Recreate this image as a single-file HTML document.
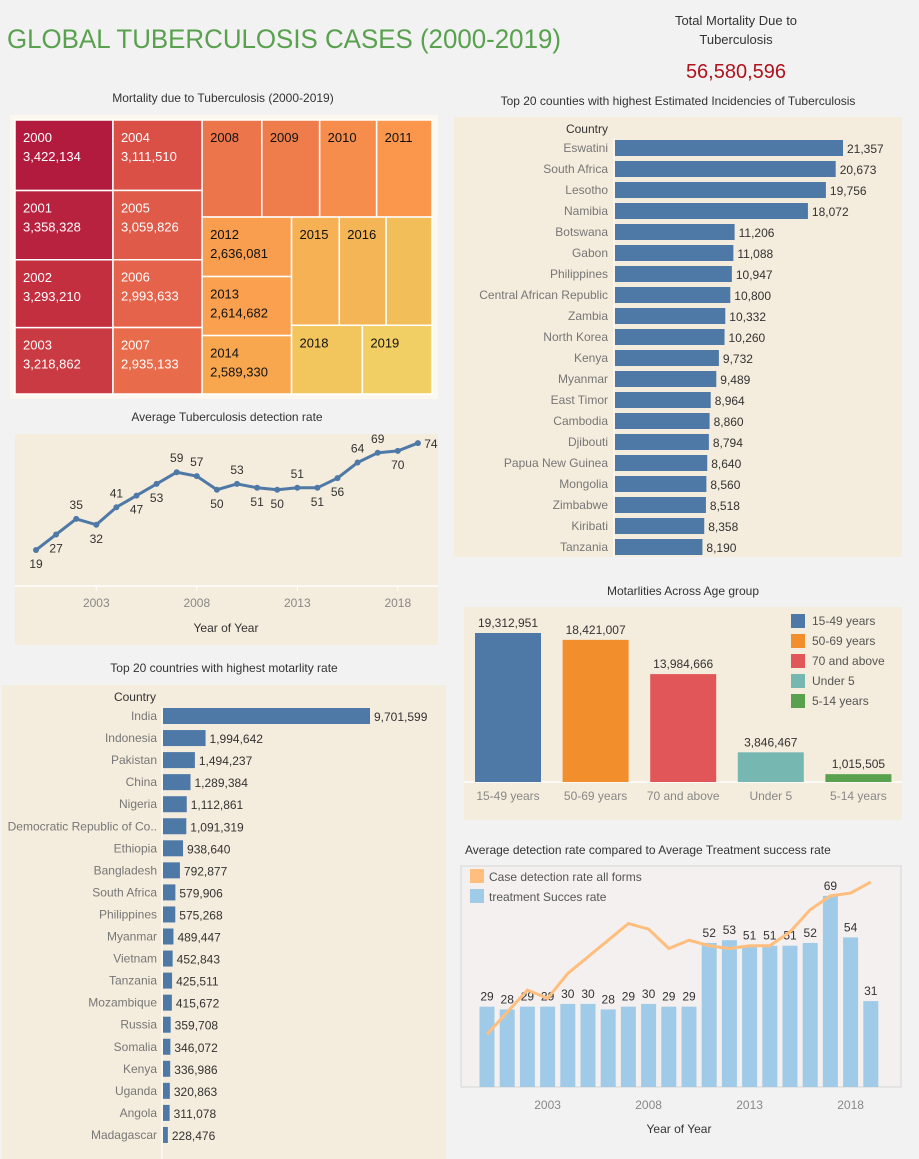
<!DOCTYPE html>
<html><head><meta charset="utf-8">
<style>
body{margin:0;background:#f2f2f2;}
svg{display:block;font-family:"Liberation Sans",sans-serif;}
</style></head>
<body>
<svg id="s" width="919" height="1159" viewBox="0 0 919 1159" xmlns="http://www.w3.org/2000/svg">
<rect width="919" height="1159" fill="#f2f2f2"/>
<text x="7" y="48" font-size="27" fill="#59a14f" textLength="554" lengthAdjust="spacingAndGlyphs">GLOBAL TUBERCULOSIS CASES (2000-2019)</text>
<text x="736" y="25" font-size="13" fill="#333" text-anchor="middle">Total Mortality Due to</text>
<text x="736" y="44" font-size="13" fill="#333" text-anchor="middle">Tuberculosis</text>
<text x="736" y="78" font-size="20" fill="#b0121e" text-anchor="middle">56,580,596</text>

<text x="223" y="102" font-size="12" fill="#333" text-anchor="middle">Mortality due to Tuberculosis (2000-2019)</text>
<rect x="10" y="115" width="428" height="284" fill="#fcf8ef"/>
<g id="tm"></g>

<text x="227" y="421" font-size="12" fill="#333" text-anchor="middle">Average Tuberculosis detection rate</text>
<rect x="15" y="434" width="423" height="211" fill="#f4ecdc"/>
<line x1="15" y1="586" x2="438" y2="586" stroke="#fff" stroke-width="1.5"/>
<g id="lc"></g>
<text x="226" y="632" font-size="12" fill="#333" text-anchor="middle">Year of Year</text>

<text x="678" y="105" font-size="12" fill="#333" text-anchor="middle">Top 20 counties with highest Estimated Incidencies of Tuberculosis</text>
<rect x="454" y="117" width="448" height="440" fill="#f4ecdc"/>
<text x="608" y="133" font-size="12" fill="#333" text-anchor="end">Country</text>
<g id="inc"></g>

<text x="224" y="672" font-size="12" fill="#333" text-anchor="middle">Top 20 countries with highest motarlity rate</text>
<rect x="2" y="685" width="444" height="474" fill="#f4ecdc"/>
<text x="156" y="701" font-size="12" fill="#333" text-anchor="end">Country</text>
<g id="mc"></g>

<text x="683" y="595" font-size="12" fill="#333" text-anchor="middle">Motarlities Across Age group</text>
<rect x="464" y="607" width="438" height="213" fill="#f4ecdc"/>
<line x1="464" y1="782" x2="902" y2="782" stroke="#fff" stroke-width="1.5"/>
<g id="ag"></g>

<text x="465" y="854" font-size="12" fill="#333">Average detection rate compared to Average Treatment success rate</text>
<rect x="461" y="866" width="440" height="221" fill="#f3f0ef" stroke="#d6d6d6"/>
<g id="cb"></g>
<text x="679" y="1133" font-size="12" fill="#333" text-anchor="middle">Year of Year</text>
</svg>
<script>
const NS="http://www.w3.org/2000/svg";
function mk(p,t,a){const e=document.createElementNS(NS,t);for(const k in a)e.setAttribute(k,a[k]);p.appendChild(e);return e;}
function fmt(v){return Math.round(v).toLocaleString('en-US');}

// ---------- Treemap ----------
const tmYears=[2000,2001,2002,2003,2004,2005,2006,2007,2008,2009,2010,2011,2012,2013,2014,2015,2016,2017,2018,2019];
const tmValues=[3422134,3358328,3293210,3218862,3111510,3059826,2993633,2935133,2870000,2780000,2740000,2660000,2636081,2614682,2589330,2560000,2510000,2460000,2410000,2370000];
const tmColors=["#b31b3e","#b9223f","#c42f40","#c93a42","#da5046","#df5a48","#e5634a","#e86c4b","#ed754b","#ef7d4c","#f78d4c","#fa974d","#f99d4e","#faa04f","#f8a74f","#f5b154","#f4b556","#f2be59","#f2c65d","#f2cf64"];
const tmLabelVal=[1,1,1,1,1,1,1,1,0,0,0,0,1,1,1,0,0,0,0,0];
const tmShowYear=[1,1,1,1,1,1,1,1,1,1,1,1,1,1,1,1,1,0,1,1];
(function(){
  const g=document.getElementById('tm');
  const sum=a=>a.reduce((s,i)=>s+tmValues[i],0);
  function slice(idx,x,y,w,h,horiz){let t=sum(idx),o=0;return idx.map(i=>{const f=tmValues[i]/t;const r=horiz?[x+o*w,y,f*w,h]:[x,y+o*h,w,f*h];o+=f;return [i,r];});}
  const X=15,Y=120,W=417,H=274;
  const A=[0,1,2,3],B=[4,5,6,7],C=[8,9,10,11,12,13,14,15,16,17,18,19];
  const tot=sum(A)+sum(B)+sum(C);
  const wA=W*sum(A)/tot,wB=W*sum(B)/tot,wC=W-wA-wB;
  let cells=[];
  cells=cells.concat(slice(A,X,Y,wA,H,false),slice(B,X+wA,Y,wB,H,false));
  const cx=X+wA+wB, top=[8,9,10,11], bot=[12,13,14,15,16,17,18,19];
  const hT=H*sum(top)/sum(C);
  cells=cells.concat(slice(top,cx,Y,wC,hT,true));
  const by=Y+hT,bh=H-hT,E=[12,13,14],D=[15,16,17,18,19];
  const wE=wC*sum(E)/sum(bot);
  cells=cells.concat(slice(E,cx,by,wE,bh,false));
  const D1=[15,16,17],D2=[18,19],hD1=bh*sum(D1)/sum(D);
  cells=cells.concat(slice(D1,cx+wE,by,wC-wE,hD1,true),slice(D2,cx+wE,by+hD1,wC-wE,bh-hD1,true));
  cells.forEach(([i,r])=>{
    const c=mk(g,'rect',{x:r[0],y:r[1],width:r[2],height:r[3],fill:tmColors[i],stroke:'#fff','stroke-width':1.5});
    
    
    const dark=i<8;
    if(tmShowYear[i]){const t=mk(g,'text',{x:r[0]+8,y:r[1]+22,'font-size':13,fill:dark?'#fff':'#111'});t.textContent=tmYears[i];
      }
    if(tmLabelVal[i]){const t=mk(g,'text',{x:r[0]+8,y:r[1]+41,'font-size':13,fill:dark?'#fff':'#111'});t.textContent=fmt(tmValues[i]);
      }
  });
})();

// ---------- Line chart ----------
const lcYears=[2000,2001,2002,2003,2004,2005,2006,2007,2008,2009,2010,2011,2012,2013,2014,2015,2016,2017,2018,2019];
const lcValues=[19,27,35,32,41,47,53,59,57,50,53,51,50,51,51,56,64,69,70,74];
const lcLabelAbove=[0,0,1,0,1,0,0,1,1,0,1,0,0,1,0,0,1,1,0,2];
const lcTicks=[2003,2008,2013,2018];
(function(){
  const g=document.getElementById('lc');
  const xs=y=>36+(y-2000)*20.1, ys=v=>587-v*1.945;
  lcTicks.forEach(t=>{const e=mk(g,'text',{x:xs(t),y:607,'font-size':12,fill:'#888','text-anchor':'middle'});e.textContent=t;
    
    const l=mk(g,'line',{x1:xs(t),y1:586,x2:xs(t),y2:591,stroke:'#fff'});});
  const pl=mk(g,'polyline',{points:lcYears.map((y,i)=>xs(y)+','+ys(lcValues[i])).join(' '),fill:'none',stroke:'#4e79a7','stroke-width':3});
  
  lcYears.forEach((y,i)=>{
    const c=mk(g,'circle',{cx:xs(y),cy:ys(lcValues[i]),r:3,fill:'#4e79a7'});
    
    const a=lcLabelAbove[i];
    const t=mk(g,'text',{x:a==2?xs(y)+13:xs(y),y:a==2?ys(lcValues[i])+5:(a?ys(lcValues[i])-10:ys(lcValues[i])+18),'font-size':12,fill:'#333','text-anchor':'middle'});
    t.textContent=lcValues[i];
  });
})();

// ---------- Incidence bars ----------
const incCountries=["Eswatini","South Africa","Lesotho","Namibia","Botswana","Gabon","Philippines","Central African Republic","Zambia","North Korea","Kenya","Myanmar","East Timor","Cambodia","Djibouti","Papua New Guinea","Mongolia","Zimbabwe","Kiribati","Tanzania"];
const incValues=[21357,20673,19756,18072,11206,11088,10947,10800,10332,10260,9732,9489,8964,8860,8794,8640,8560,8518,8358,8190];
(function(){
  const g=document.getElementById('inc');
  mk(g,'line',{x1:614,y1:138,x2:614,y2:557,stroke:'#fff'});
  const xs=v=>v*228/21357;
  incCountries.forEach((c,i)=>{
    const y=148+i*21;
    const t=mk(g,'text',{x:608,y:y+4,'font-size':12,fill:'#777','text-anchor':'end'});t.textContent=c;
    
    const b=mk(g,'rect',{x:615,y:y-8,width:xs(incValues[i]),height:16,fill:'#4e79a7'});
    
    const v=mk(g,'text',{x:615+xs(incValues[i])+4,y:y+5,'font-size':12,fill:'#333'});v.textContent=fmt(incValues[i]);
    
  });
})();

// ---------- Mortality by country ----------
const mcCountries=["India","Indonesia","Pakistan","China","Nigeria","Democratic Republic of Co..","Ethiopia","Bangladesh","South Africa","Philippines","Myanmar","Vietnam","Tanzania","Mozambique","Russia","Somalia","Kenya","Uganda","Angola","Madagascar"];
const mcValues=[9701599,1994642,1494237,1289384,1112861,1091319,938640,792877,579906,575268,489447,452843,425511,415672,359708,346072,336986,320863,311078,228476];
(function(){
  const g=document.getElementById('mc');
  mk(g,'line',{x1:162,y1:706,x2:162,y2:1159,stroke:'#fff'});
  const xs=v=>v*207/9701599;
  mcCountries.forEach((c,i)=>{
    const y=716+i*22.05;
    const t=mk(g,'text',{x:157,y:y+4,'font-size':12,fill:'#777','text-anchor':'end'});t.textContent=c;
    
    const b=mk(g,'rect',{x:163,y:y-8,width:xs(mcValues[i]),height:16,fill:'#4e79a7'});
    
    const v=mk(g,'text',{x:163+xs(mcValues[i])+4,y:y+5,'font-size':12,fill:'#333'});v.textContent=fmt(mcValues[i]);
    
  });
})();

// ---------- Age group ----------
const agGroups=["15-49 years","50-69 years","70 and above","Under 5","5-14 years"];
const agValues=[19312951,18421007,13984666,3846467,1015505];
const agColors=["#4e79a7","#f28e2b","#e15759","#76b7b2","#59a14f"];
(function(){
  const g=document.getElementById('ag');
  const ys=v=>v*149/19312951;
  agGroups.forEach((n,i)=>{
    const cx=508+i*87.6,h=ys(agValues[i]);
    const b=mk(g,'rect',{x:cx-33,y:782-h,width:66,height:h,fill:agColors[i]});
    
    const v=mk(g,'text',{x:cx,y:782-h-6,'font-size':12,fill:'#333','text-anchor':'middle'});v.textContent=fmt(agValues[i]);
    
    const t=mk(g,'text',{x:cx,y:800,'font-size':12,fill:'#888','text-anchor':'middle'});t.textContent=n;
    
    const ly=621+i*20;
    const s=mk(g,'rect',{x:791,y:ly-7,width:14,height:14,fill:agColors[i]});
    
    const lt=mk(g,'text',{x:812,y:ly+4,'font-size':12,fill:'#555'});lt.textContent=n;
    
  });
})();

// ---------- Combo chart ----------
const cbYears=[2000,2001,2002,2003,2004,2005,2006,2007,2008,2009,2010,2011,2012,2013,2014,2015,2016,2017,2018,2019];
const cbTreatment=[29,28,29,29,30,30,28,29,30,29,29,52,53,51,51,51,52,69,54,31];
const cbDetection=[19,27,35,32,41,47,53,59,57,50,53,51,50,51,51,56,64,69,70,74];
const cbTicks=[2003,2008,2013,2018];
(function(){
  const g=document.getElementById('cb');
  const xs=y=>487+(y-2000)*20.2, ys=v=>1087-v*2.77;
  cbYears.forEach((y,i)=>{
    const b=mk(g,'rect',{x:xs(y)-7.5,y:ys(cbTreatment[i]),width:15,height:cbTreatment[i]*2.77,fill:'#a0cbe8'});
    
    const t=mk(g,'text',{x:xs(y),y:ys(cbTreatment[i])-6,'font-size':12,fill:'#333','text-anchor':'middle'});t.textContent=cbTreatment[i];
    
  });
  const pl=mk(g,'polyline',{points:cbYears.map((y,i)=>xs(y)+','+ys(cbDetection[i])).join(' '),fill:'none',stroke:'#ffbe7d','stroke-width':3});
  
  cbTicks.forEach(t=>{const e=mk(g,'text',{x:xs(t),y:1109,'font-size':12,fill:'#888','text-anchor':'middle'});e.textContent=t;
    });
  const l1=mk(g,'rect',{x:470,y:869,width:14,height:14,fill:'#ffbe7d'});
  
  const t1=mk(g,'text',{x:489,y:881,'font-size':12,fill:'#555'});t1.textContent='Case detection rate  all forms';
  
  const l2=mk(g,'rect',{x:470,y:889,width:14,height:14,fill:'#a0cbe8'});
  
  const t2=mk(g,'text',{x:489,y:901,'font-size':12,fill:'#555'});t2.textContent='treatment Succes rate';
  
})();
</script>
</body></html>
